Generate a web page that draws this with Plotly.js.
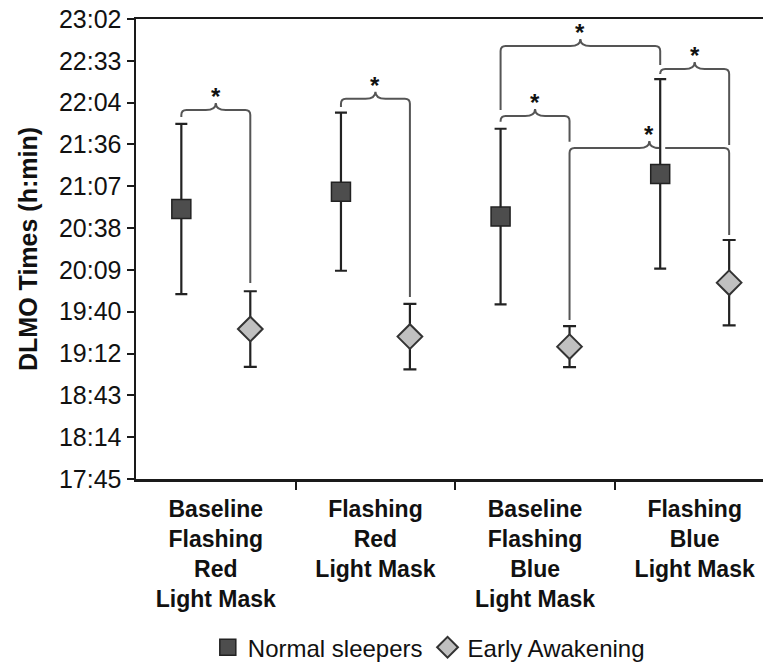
<!DOCTYPE html>
<html>
<head>
<meta charset="utf-8">
<script src="https://cdn.plot.ly/plotly-3.0.1.min.js"></script>
<style>
  html, body { margin: 0; padding: 0; background: #ffffff; }
  #chart { width: 763px; height: 665px; }
</style>
</head>
<body>
<div id="chart"></div>
<script>
// ---------- data (times as fractions of a day, Excel style) ----------
const categories = [
  "Baseline<br>Flashing<br>Red<br>Light Mask",
  "Flashing<br>Red<br>Light Mask",
  "Baseline<br>Flashing<br>Blue<br>Light Mask",
  "Flashing<br>Blue<br>Light Mask"
];
const seriesNames = ["Normal sleepers", "Early Awakening"];
const normalMean = [0.8691, 0.8774, 0.8655, 0.8859];
const normalErr  = [0.0407, 0.0378, 0.0420, 0.0453];
const earlyMean  = [0.8117, 0.8081, 0.8033, 0.8339];
const earlyErr   = [0.0181, 0.0157, 0.0098, 0.0204];

const yTickVals = [0.74, 0.76, 0.78, 0.80, 0.82, 0.84, 0.86, 0.88, 0.90, 0.92, 0.94, 0.96];
const yTickText = ["17:45", "18:14", "18:43", "19:12", "19:40", "20:09",
                   "20:38", "21:07", "21:36", "22:04", "22:33", "23:02"];

// significance brackets: [series, category] at each end, bracket level, leg end values
const brackets = [
  { a: [0, 0], b: [1, 0], level: 0.9165, endA: 0.9131, endB: 0.8337 },
  { a: [0, 1], b: [1, 1], level: 0.9219, endA: 0.9179, endB: 0.8270 },
  { a: [0, 2], b: [1, 2], level: 0.9136, endA: 0.9109, endB: 0.9013 },
  { a: [0, 2], b: [0, 3], level: 0.9471, endA: 0.9165, endB: 0.9380 },
  { a: [1, 2], b: [1, 3], level: 0.8983, endA: 0.8160, endB: 0.8567 },
  { a: [0, 3], b: [1, 3], level: 0.9361, endA: 0.9342, endB: 0.8997 }
];

// ---------- layout geometry ----------
const W = 763, H = 665;
const M = { l: 136, r: 0, t: 19, b: 186 };
const xRange = [-0.5, 3.428];
const yRange = [0.74, 0.96];
const plotW = W - M.l - M.r, plotH = H - M.t - M.b;
const xpp = (xRange[1] - xRange[0]) / plotW;  // data units per px
const ypp = (yRange[1] - yRange[0]) / plotH;
const offset = 0.216;  // dodge of the two series within a category

const catIdx = categories.map((c, i) => i);
const xs = [catIdx.map(i => i - offset), catIdx.map(i => i + offset)];
const means = [normalMean, earlyMean];
const errs = [normalErr, earlyErr];

const traces = [
  {
    type: "scatter", mode: "markers", name: seriesNames[0],
    x: xs[0], y: normalMean,
    error_y: { type: "data", array: normalErr, visible: true, color: "#222222", thickness: 2.2, width: 6 },
    marker: { symbol: "square", size: 19, color: "#4d4d4d", line: { color: "#222222", width: 1.5 } }
  },
  {
    type: "scatter", mode: "markers", name: seriesNames[1],
    x: xs[1], y: earlyMean,
    error_y: { type: "data", array: earlyErr, visible: true, color: "#222222", thickness: 2.2, width: 6.5 },
    marker: { symbol: "diamond", size: 19, color: "#c0c0c0", line: { color: "#333333", width: 2 } }
  }
];

// ---------- brace shapes ----------
const shapes = [];
const annotations = [];
const r = 5, w = 10, h = 7, gap = 5;
brackets.forEach(bk => {
  const xL = xs[bk.a[0]][bk.a[1]];
  const xR = xs[bk.b[0]][bk.b[1]];
  const lv = bk.level;
  const xm = (xL + xR) / 2;
  // error bars crossing the horizontal line -> leave a small gap
  const gaps = [];
  [0, 1].forEach(s => catIdx.forEach(i => {
    const gx = xs[s][i];
    if (gx > xL + 1e-6 && gx < xR - 1e-6 &&
        means[s][i] + errs[s][i] > lv && means[s][i] - errs[s][i] < lv) gaps.push(gx);
  }));
  const seg = (x0, x1) => {
    let p = "";
    const inside = gaps.filter(g => g > Math.min(x0, x1) && g < Math.max(x0, x1));
    inside.forEach(g => { p += ` L ${g - gap * xpp},${lv} M ${g + gap * xpp},${lv}`; });
    return p + ` L ${x1},${lv}`;
  };
  let path = `M ${xL},${bk.endA} L ${xL},${lv - r * ypp} Q ${xL},${lv} ${xL + r * xpp},${lv}`;
  path += seg(xL + r * xpp, xm - w * xpp);
  path += ` Q ${xm},${lv} ${xm},${lv + h * ypp} Q ${xm},${lv} ${xm + w * xpp},${lv}`;
  path += seg(xm + w * xpp, xR - r * xpp);
  path += ` Q ${xR},${lv} ${xR},${lv - r * ypp} L ${xR},${bk.endB}`;
  shapes.push({ type: "path", xref: "x", yref: "y", path: path, layer: "below",
                line: { color: "#555555", width: 2 } });
  annotations.push({ x: xm, y: lv, xref: "x", yref: "y", text: "<b>*</b>", showarrow: false,
                     yanchor: "bottom", yshift: -2,
                     font: { size: 24, color: "#111111", family: "Liberation Sans, Arial, sans-serif" } });
});

const layout = {
  width: W, height: H,
  margin: M,
  paper_bgcolor: "#ffffff", plot_bgcolor: "#ffffff",
  font: { family: "Liberation Sans, Arial, sans-serif", color: "#111111" },
  showlegend: true,
  legend: {
    orientation: "h", xref: "container", yref: "container",
    x: 0.562, xanchor: "center", y: 0.026, yanchor: "middle",
    font: { size: 24, color: "#111111" }, itemwidth: 30, tracegroupgap: 0
  },
  xaxis: {
    range: xRange, type: "linear",
    tickvals: catIdx, ticktext: categories, ticks: "",
    tickfont: { size: 23, color: "#111111", weight: "bold", family: "Liberation Sans, Arial, sans-serif" },
    ticklabelstandoff: 8,
    showline: true, linecolor: "#1a1a1a", linewidth: 2.5, mirror: true,
    showgrid: false, zeroline: false, fixedrange: true,
    minor: { tickmode: "array", tickvals: [0.5, 1.5, 2.5], ticks: "outside", ticklen: 8, tickwidth: 2, tickcolor: "#1a1a1a", showgrid: false }
  },
  yaxis: {
    range: yRange, tickvals: yTickVals, ticktext: yTickText,
    ticks: "outside", ticklen: 7, tickwidth: 2, tickcolor: "#1a1a1a",
    tickfont: { size: 25, color: "#111111" },
    showline: true, linecolor: "#1a1a1a", linewidth: 2.5,
    showgrid: false, zeroline: false, fixedrange: true,
    title: { text: "<b>DLMO Times (h:min)</b>", font: { size: 25, color: "#111111" }, standoff: 14 }
  },
  shapes: shapes,
  annotations: annotations
};

Plotly.newPlot("chart", traces, layout, { staticPlot: true, displayModeBar: false });
</script>
</body>
</html>
